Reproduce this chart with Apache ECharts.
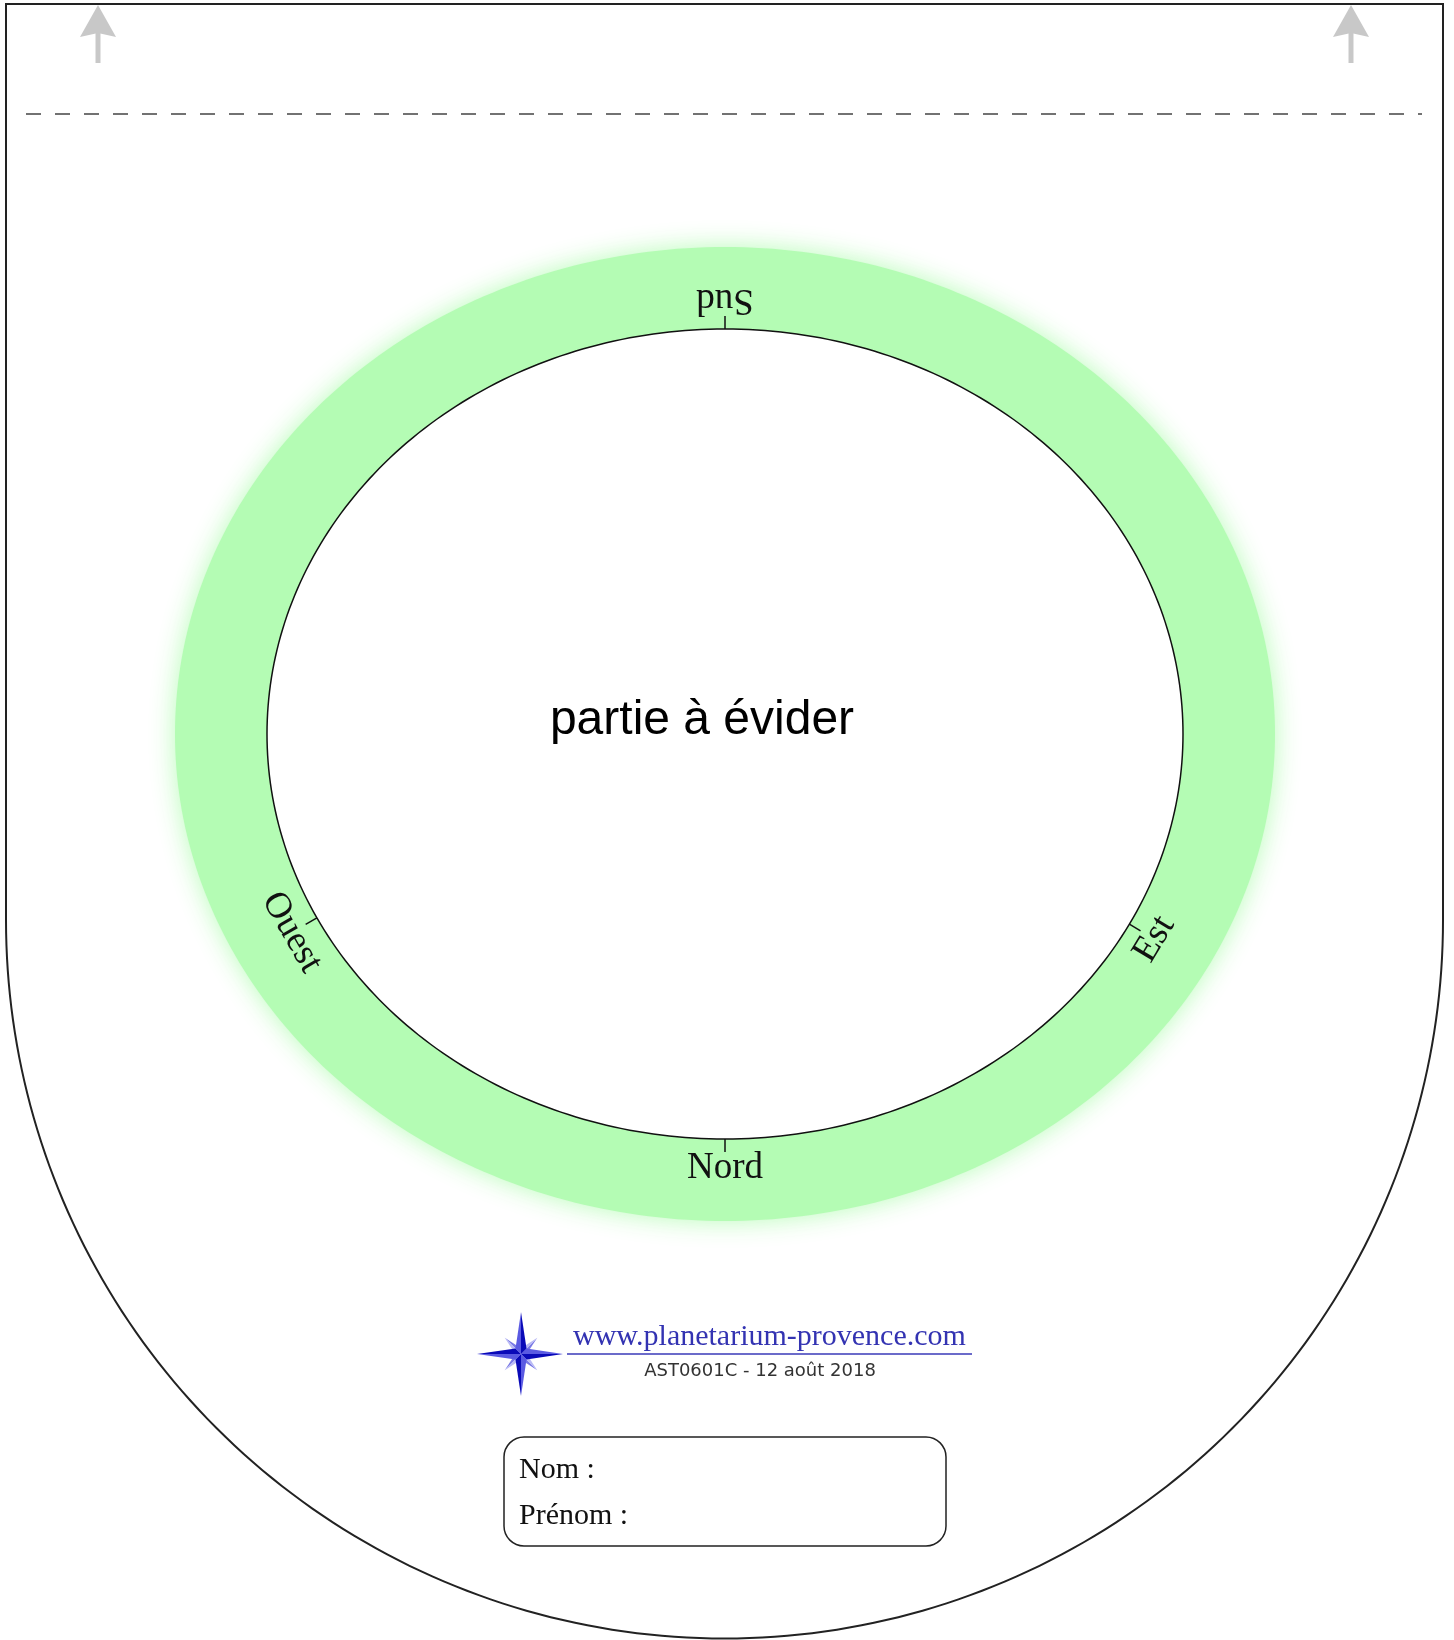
<!DOCTYPE html>
<html><head><meta charset="utf-8">
<script src="https://cdn.jsdelivr.net/npm/echarts@6/dist/echarts.min.js"></script>
<style>html,body{margin:0;padding:0;background:#fff}#c{width:1454px;height:1640px}</style>
</head><body><div id="c"></div>
<script>
// ---- content ----
const directions = ['Sud', 'Est', 'Nord', 'Ouest'];
const directionAngles = [-90, 28, 90, 153];           // parametric angle on the horizon ellipse (deg)
const centerLabels = ['partie à évider'];
const creditLines = ['www.planetarium-provence.com', 'AST0601C - 12 août 2018'];
const nameFields = ['Nom :', 'Prénom :'];
const cutArrows = ['gauche', 'droite'];

// ---- layout (pixel units of the hidden axes) ----
const L = {
  W: 1454, H: 1640,
  frame: { left: 6, right: 1443, top: 4, arcCy: 920 },
  dash: { y: 114, x1: 26, x2: 1422 },
  arrowX: [98, 1351], arrowTip: 5, arrowBase: 35, arrowEnd: 63, arrowHalf: 18, stemHalf: 2.5,
  horizon: { cx: 725, cy: 734, rx: 458, ry: 405 },
  ring: { rx: 550, ry: 487 },
  tickLen: 13, labelOff: 29,
  center: { x: 702, y: 721 },
  star: { x: 521, y: 1354 },
  url: { x: 573, y: 1337, ux1: 567, ux2: 972, uy: 1354 },
  code: { x: 760, y: 1371 },
  box: { x: 504, y: 1437, w: 442, h: 109, r: 20 },
  fieldX: 519, fieldY: [1470, 1516]
};

const ROOT = document.getElementById('c');
const chart = echarts.init(ROOT, null, { renderer: 'canvas' });

function ellipsePts(api, cx, cy, rx, ry, n) {
  const pts = [];
  for (let i = 0; i < n; i++) {
    const t = i / n * Math.PI * 2;
    pts.push(api.coord([cx + rx * Math.cos(t), cy + ry * Math.sin(t)]));
  }
  return pts;
}

function frameItem(params, api) {
  const f = L.frame;
  const cx = (f.left + f.right) / 2, r = (f.right - f.left) / 2;
  const pts = [api.coord([f.left, f.arcCy]), api.coord([f.left, f.top]), api.coord([f.right, f.top]), api.coord([f.right, f.arcCy])];
  for (let i = 1; i <= 180; i++) {
    const a = i / 180 * Math.PI;
    pts.push(api.coord([cx + r * Math.cos(a), f.arcCy + r * Math.sin(a)]));
  }
  const a1 = api.coord([L.dash.x1, L.dash.y]), a2 = api.coord([L.dash.x2, L.dash.y]);
  return {
    type: 'group', children: [
      { type: 'polygon', shape: { points: pts }, style: { fill: 'none', stroke: '#222', lineWidth: 2 } },
      { type: 'line', shape: { x1: a1[0], y1: a1[1], x2: a2[0], y2: a2[1] }, style: { stroke: '#444', lineWidth: 1.5, lineDash: [15, 14] } }
    ]
  };
}

function arrowItem(params, api) {
  const x = L.arrowX[params.dataIndex];
  const tip = api.coord([x, L.arrowTip]);
  const bl = api.coord([x - L.arrowHalf, L.arrowBase + 2]);
  const br = api.coord([x + L.arrowHalf, L.arrowBase + 2]);
  const notch = api.coord([x, L.arrowBase - 2]);
  const s1 = api.coord([x - L.stemHalf, L.arrowBase - 4]);
  const s2 = api.coord([x + L.stemHalf, L.arrowEnd]);
  return {
    type: 'group', children: [
      { type: 'rect', shape: { x: s1[0], y: s1[1], width: s2[0] - s1[0], height: s2[1] - s1[1] }, style: { fill: '#c8c8c8' } },
      { type: 'polygon', shape: { points: [tip, br, notch, bl] }, style: { fill: '#c8c8c8' } }
    ]
  };
}

function ringItem(params, api) {
  const h = L.horizon;
  return {
    type: 'group', children: [
      { type: 'polygon', shape: { points: ellipsePts(api, h.cx, h.cy, L.ring.rx, L.ring.ry, 360) },
        style: { fill: '#b4fcb4', shadowBlur: 26, shadowColor: 'rgba(180,252,180,0.95)' } },
      { type: 'polygon', shape: { points: ellipsePts(api, h.cx, h.cy, h.rx, h.ry, 360) },
        style: { fill: '#ffffff', stroke: '#111', lineWidth: 1.5 } }
    ]
  };
}

function directionItem(params, api) {
  const h = L.horizon;
  const t = api.value(0) * Math.PI / 180;
  const px = h.cx + h.rx * Math.cos(t), py = h.cy + h.ry * Math.sin(t);
  let nx = Math.cos(t) / h.rx, ny = Math.sin(t) / h.ry;
  const nl = Math.hypot(nx, ny); nx /= nl; ny /= nl;
  const p0 = api.coord([px, py]);
  const p1 = api.coord([px + nx * L.tickLen, py + ny * L.tickLen]);
  const pl = api.coord([px + nx * L.labelOff, py + ny * L.labelOff]);
  const dx = h.rx * Math.sin(t), dy = -h.ry * Math.cos(t);
  const ang = Math.atan2(dy, dx);
  return {
    type: 'group', children: [
      { type: 'line', shape: { x1: p0[0], y1: p0[1], x2: p1[0], y2: p1[1] }, style: { stroke: '#111', lineWidth: 1.5 } },
      { type: 'text', x: pl[0], y: pl[1], rotation: -ang,
        style: { text: directions[params.dataIndex], font: '37px "Liberation Serif"', fill: '#111', align: 'center', verticalAlign: 'middle' } }
    ]
  };
}

function centerItem(params, api) {
  const p = api.coord([L.center.x, L.center.y]);
  return { type: 'text', x: p[0], y: p[1], style: { text: centerLabels[params.dataIndex], font: '48px "Liberation Sans"', fill: '#000', align: 'center', verticalAlign: 'middle' } };
}

function starItem(params, api) {
  const c = [L.star.x, L.star.y];
  const children = [];
  function arm(deg, len, w, dark, light) {
    const a = deg * Math.PI / 180;
    const ux = Math.cos(a), uy = Math.sin(a), vx = -uy, vy = ux;
    const tip = api.coord([c[0] + ux * len, c[1] + uy * len]);
    const sL = api.coord([c[0] + ux * w + vx * w, c[1] + uy * w + vy * w]);
    const sR = api.coord([c[0] + ux * w - vx * w, c[1] + uy * w - vy * w]);
    const o = api.coord(c);
    children.push({ type: 'polygon', shape: { points: [o, sL, tip] }, style: { fill: dark } });
    children.push({ type: 'polygon', shape: { points: [o, sR, tip] }, style: { fill: light } });
  }
  [45, 135, 225, 315].forEach(d => arm(d, 23, 4, '#7a7ae6', '#b9b9f5'));
  [0, 90, 180, 270].forEach(d => arm(d, d === 180 ? 44 : 42, 5.5, '#0a0ab8', '#5a5ae2'));
  return { type: 'group', children };
}

function creditItem(params, api) {
  const u = api.coord([L.url.x, L.url.y]);
  const l1 = api.coord([L.url.ux1, L.url.uy]), l2 = api.coord([L.url.ux2, L.url.uy]);
  const k = api.coord([L.code.x, L.code.y]);
  return {
    type: 'group', children: [
      { type: 'text', x: u[0], y: u[1], style: { text: creditLines[0], font: '30px "Liberation Serif"', fill: '#3333b2', align: 'left', verticalAlign: 'middle' } },
      { type: 'line', shape: { x1: l1[0], y1: l1[1], x2: l2[0], y2: l2[1] }, style: { stroke: '#3a3ab8', lineWidth: 1.5 } },
      { type: 'text', x: k[0], y: k[1], style: { text: creditLines[1], font: '18px "DejaVu Sans"', fill: '#333', align: 'center', verticalAlign: 'middle' } }
    ]
  };
}

function boxItem(params, api) {
  const b = L.box;
  const p = api.coord([b.x, b.y]), q = api.coord([b.x + b.w, b.y + b.h]);
  const children = [{ type: 'rect', shape: { x: p[0], y: p[1], width: q[0] - p[0], height: q[1] - p[1], r: b.r }, style: { fill: 'none', stroke: '#222', lineWidth: 1.5 } }];
  nameFields.forEach((f, i) => {
    const t = api.coord([L.fieldX, L.fieldY[i]]);
    children.push({ type: 'text', x: t[0], y: t[1], style: { text: f, font: '30px "Liberation Serif"', fill: '#111', align: 'left', verticalAlign: 'middle' } });
  });
  return { type: 'group', children };
}

const base = { type: 'custom', coordinateSystem: 'cartesian2d', silent: true, clip: false };
chart.setOption({
  animation: false,
  backgroundColor: '#ffffff',
  grid: { left: 0, right: 0, top: 0, bottom: 0 },
  xAxis: { type: 'value', min: 0, max: L.W, show: false },
  yAxis: { type: 'value', min: 0, max: L.H, inverse: true, show: false },
  series: [
    Object.assign({}, base, { data: [[0, 0]], renderItem: ringItem }),
    Object.assign({}, base, { data: [[0, 0]], renderItem: frameItem }),
    Object.assign({}, base, { data: cutArrows.map((a, i) => [i, 0]), renderItem: arrowItem }),
    Object.assign({}, base, { data: directionAngles.map(a => [a, 0]), renderItem: directionItem }),
    Object.assign({}, base, { data: centerLabels.map((c, i) => [i, 0]), renderItem: centerItem }),
    Object.assign({}, base, { data: [[0, 0]], renderItem: starItem }),
    Object.assign({}, base, { data: [[0, 0]], renderItem: creditItem }),
    Object.assign({}, base, { data: [[0, 0]], renderItem: boxItem })
  ]
});
</script></body></html>
